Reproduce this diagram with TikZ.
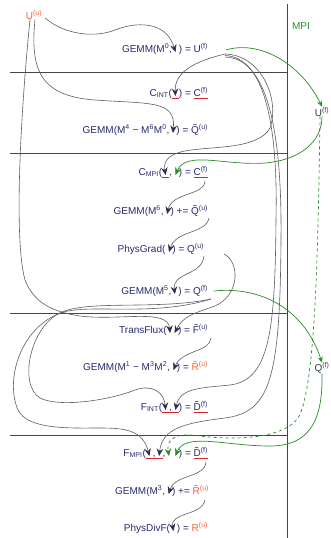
\documentclass[tikz,border=0pt]{standalone}
\usepackage{fontspec}
\setmainfont{Liberation Sans}
\usetikzlibrary{arrows.meta}
\definecolor{fncol}{RGB}{40,44,110}
\definecolor{rescol}{RGB}{55,55,70}
\definecolor{orng}{RGB}{240,100,60}
\definecolor{ulred}{RGB}{210,40,40}
\definecolor{mpigreen}{RGB}{40,140,40}
\definecolor{linegray}{RGB}{95,95,100}
\definecolor{tipcol}{RGB}{45,47,75}
\definecolor{rulegray}{RGB}{70,70,70}
\begin{document}
\begin{tikzpicture}[x=1pt,y=-1pt,
  lbl/.style={inner sep=0pt, outer sep=0pt, anchor=base east, font=\fontsize{10}{12}\selectfont, text=fncol},
  hot/.style={lbl, text=orng},
  side/.style={lbl, text=rescol, anchor=center},
  rule/.style={draw=rulegray, line width=0.9pt},
  flow/.style={draw=linegray, line width=0.6pt, -{Stealth[length=7.5pt,width=6.5pt,inset=2.6pt,color=tipcol]}},
  gflow/.style={draw=mpigreen, line width=0.7pt, -{Stealth[length=7.5pt,width=6.5pt,inset=2.6pt]}},
  mpiarr/.style={draw=mpigreen, line width=0.7pt, -{Stealth[length=6pt,width=5pt]}},
  uline/.style={draw=ulred, line width=0.9pt},
]
\path[use as bounding box, fill=white] (0,0) rectangle (331,538);

% rules
\draw[rule] (10,72) -- (287,72);
\draw[rule] (10,153) -- (287,153);
\draw[rule] (10,313) -- (287,313);
\draw[rule] (10,435) -- (287,435);
\draw[rule] (287,4) -- (287,538);

% side labels
\node[hot, anchor=center] (uu) at (34,15) {U\textsuperscript{(u)}};
\node[lbl, text=mpigreen, anchor=west] (mpi) at (292,26) {MPI};
\node[side] (ufr) at (322,112) {U\textsuperscript{(f)}};
\node[side] (qfr) at (322,368) {Q\textsuperscript{(f)}};

% GEMM M0
\node[lbl] (m0b) at (208,52) {)~=~U\textsuperscript{(f)}};
\coordinate (m0s) at ([xshift=-3.5pt]m0b.base west);
\node[lbl] (m0a) at ([xshift=-7pt]m0b.base west) {GEMM(M\textsuperscript{0},};

% C_INT
\node[lbl] (cic) at (208,96) {C\textsuperscript{(f)}};
\node[lbl] (cib) at (cic.base west) {)~=\kern2.8pt};
\coordinate (cis) at ([xshift=-3.5pt]cib.base west);
\node[lbl] (cia) at ([xshift=-7pt]cib.base west) {C\textsubscript{INT}(};

% GEMM M4
\node[lbl] (m4b) at (208,133) {)~=~\~{Q}\textsuperscript{(u)}};
\coordinate (m4s) at ([xshift=-3.5pt]m4b.base west);
\node[lbl] (m4a) at ([xshift=-7pt]m4b.base west) {GEMM(M\textsuperscript{4}~−~M\textsuperscript{6}M\textsuperscript{0},};

% C_MPI
\node[lbl] (cmd) at (208,175) {C\textsuperscript{(f)}};
\node[lbl] (cmc) at (cmd.base west) {)~=\kern2.8pt};
\coordinate (cms2) at ([xshift=-3.5pt]cmc.base west);
\node[lbl] (cmb) at ([xshift=-7pt]cmc.base west) {,};
\coordinate (cms1) at ([xshift=-3.5pt]cmb.base west);
\node[lbl] (cma) at ([xshift=-7pt]cmb.base west) {C\textsubscript{MPI}(};

% GEMM M6
\node[lbl] (m6b) at (208,214) {)~+=~\~{Q}\textsuperscript{(u)}};
\coordinate (m6s) at ([xshift=-3.5pt]m6b.base west);
\node[lbl] (m6a) at ([xshift=-7pt]m6b.base west) {GEMM(M\textsuperscript{6},};

% PhysGrad
\node[lbl] (pgb) at (204,252) {)~=~Q\textsuperscript{(u)}};
\coordinate (pgs) at ([xshift=-3.5pt]pgb.base west);
\node[lbl] (pga) at ([xshift=-7pt]pgb.base west) {PhysGrad(};

% GEMM M5
\node[lbl] (m5b) at (208,294) {)~=~Q\textsuperscript{(f)}};
\coordinate (m5s) at ([xshift=-3.5pt]m5b.base west);
\node[lbl] (m5a) at ([xshift=-7pt]m5b.base west) {GEMM(M\textsuperscript{5},};

% TransFlux
\node[lbl] (tfb) at (208,333) {)~=~\~{F}\textsuperscript{(u)}};
\coordinate (tfs1) at ([xshift=-8pt]tfb.base west);
\coordinate (tfs2) at ([xshift=-3.5pt]tfb.base west);
\node[lbl] (tfa) at ([xshift=-11.5pt]tfb.base west) {TransFlux(};

% GEMM M1
\node[hot] (m1c) at (208,370) {\~{R}\textsuperscript{(u)}};
\node[lbl] (m1b) at (m1c.base west) {)~=\kern2.8pt};
\coordinate (m1s) at ([xshift=-3.5pt]m1b.base west);
\node[lbl] (m1a) at ([xshift=-7pt]m1b.base west) {GEMM(M\textsuperscript{1}~−~M\textsuperscript{3}M\textsuperscript{2},};

% F_INT
\node[lbl] (fid) at (208,410) {\~{D}\textsuperscript{(f)}};
\node[lbl] (fic) at (fid.base west) {)~=\kern2.8pt};
\coordinate (fis2) at ([xshift=-3.5pt]fic.base west);
\node[lbl] (fib) at ([xshift=-7pt]fic.base west) {,};
\coordinate (fis1) at ([xshift=-3.5pt]fib.base west);
\node[lbl] (fia) at ([xshift=-7pt]fib.base west) {F\textsubscript{INT}(};

% F_MPI
\node[lbl] (fmf) at (208,456) {\~{D}\textsuperscript{(f)}};
\node[lbl] (fme) at (fmf.base west) {)~=\kern2.8pt};
\coordinate (fms4) at ([xshift=-3.5pt]fme.base west);
\coordinate (fms3) at ([xshift=-10pt]fme.base west);
\node[lbl] (fmc) at ([xshift=-13.5pt]fme.base west) {,};
\coordinate (fms2) at ([xshift=-3.5pt]fmc.base west);
\node[lbl] (fmb) at ([xshift=-7pt]fmc.base west) {,};
\coordinate (fms1) at ([xshift=-3.5pt]fmb.base west);
\node[lbl] (fma) at ([xshift=-7pt]fmb.base west) {F\textsubscript{MPI}(};

% GEMM M3
\node[hot] (m3c) at (209,494) {\~{R}\textsuperscript{(u)}};
\node[lbl] (m3b) at (m3c.base west) {)~+=\kern2.8pt};
\coordinate (m3s) at ([xshift=-3.5pt]m3b.base west);
\node[lbl] (m3a) at ([xshift=-7pt]m3b.base west) {GEMM(M\textsuperscript{3},};

% PhysDivF
\node[hot] (pdc) at (208,531) {R\textsuperscript{(u)}};
\node[lbl] (pdb) at (pdc.base west) {)~=\kern2.8pt};
\coordinate (pds) at ([xshift=-3.5pt]pdb.base west);
\node[lbl] (pda) at ([xshift=-7pt]pdb.base west) {PhysDivF(};

% underlines
\draw[uline] ([xshift=-3.5pt,yshift=-2.5pt]cis) -- ([xshift=3.5pt,yshift=-2.5pt]cis);
\draw[uline] ([yshift=-2.5pt]cic.base west) -- ([yshift=-2.5pt]cic.base east);
\draw[uline] ([xshift=-3.5pt,yshift=-2.5pt]cms1) -- ([xshift=3.5pt,yshift=-2.5pt]cms1);
\draw[uline] ([yshift=-2.5pt]cmd.base west) -- ([yshift=-2.5pt]cmd.base east);
\draw[uline] ([xshift=-3.5pt,yshift=-2.5pt]fis1) -- ([xshift=3.5pt,yshift=-2.5pt]fis2);
\draw[uline] ([yshift=-2.5pt]fid.base west) -- ([yshift=-2.5pt]fid.base east);
\draw[uline] ([xshift=-3.5pt,yshift=-2.5pt]fms1) -- ([xshift=3.5pt,yshift=-2.5pt]fms2);
\draw[uline] ([yshift=-2.5pt]fmf.base west) -- ([yshift=-2.5pt]fmf.base east);

% source points
\coordinate (uuR) at ([xshift=3pt,yshift=-3pt]uu.east);
\coordinate (uuB) at ([xshift=1pt]uu.south);
\coordinate (uuL) at ([xshift=-4pt]uu.south);
\coordinate (ufo) at ([xshift=17pt,yshift=-2pt]m0b.base east);
\coordinate (ufg) at ([xshift=18pt,yshift=2pt]m0b.base east);
\coordinate (cmo) at ([xshift=-3pt,yshift=-6pt]cmd.base east);
\coordinate (m6o) at ([xshift=1pt,yshift=-4pt]m6b.base east);
\coordinate (pgo) at ([xshift=0pt,yshift=-4pt]pgb.base east);
\coordinate (pgq) at ([xshift=20pt,yshift=-2pt]pgb.base east);
\coordinate (m5o) at ([xshift=6pt,yshift=3pt]m5b.base east);
\coordinate (m5p) at ([xshift=3pt,yshift=-5pt]m5b.base east);
\coordinate (tfo) at ([xshift=3pt,yshift=-5pt]tfb.base east);
\coordinate (fmo) at ([xshift=-2pt,yshift=-6pt]fmf.base east);
\coordinate (m3o) at ([xshift=-4pt,yshift=-6pt]m3c.base east);

% gray flows
\draw[flow] (uuR) .. controls (65,35) and (95,38) .. (115,30) .. controls (135,22) and (166,20) .. (m0s);
\draw[flow] (uuB) .. controls (30,70) and (40,96) .. (95,100) .. controls (150,104) and (176,100) .. (m4s);
\draw[flow] (uuL) .. controls (20,120) and (14,240) .. (25,280) .. controls (35,305) and (55,312) .. (80,316) .. controls (120,321) and (168,308) .. (tfs1);
\draw[flow] (ufo) .. controls (200,60) and (174,70) .. (cis);
\draw[flow] (ufo) .. controls (262,55) and (280,100) .. (270,128) .. controls (258,150) and (210,146) .. (185,151) .. controls (170,154) and (163,160) .. (cms1);
\draw[flow] ([yshift=-1.5pt]ufo) .. controls (266,57) and (278,130) .. (276,220) .. controls (275,330) and (270,380) .. (230,385) .. controls (200,388) and (180,388) .. (fis2);
\draw[flow] ([yshift=-3pt]ufo) .. controls (270,58) and (282,140) .. (281,240) .. controls (280,380) and (270,412) .. (225,418) .. controls (185,423) and (162,428) .. (fms2);
\draw[flow] (cmo) .. controls (204,196) and (172,192) .. (m6s);
\draw[flow] (m6o) .. controls (206,234) and (176,230) .. (pgs);
\draw[flow] (pgo) .. controls (202,276) and (172,272) .. (m5s);
\draw[flow] (pgq) .. controls (240,262) and (240,295) .. (215,306) .. controls (195,313) and (183,316) .. (tfs2);
\draw[flow] (m5p) .. controls (160,310) and (90,300) .. (62,312) .. controls (30,325) and (18,385) .. (40,398) .. controls (60,408) and (110,400) .. (135,390) .. controls (152,384) and (164,392) .. (fis1);
\draw[flow] (m5p) .. controls (150,318) and (85,302) .. (58,314) .. controls (20,330) and (5,380) .. (18,410) .. controls (28,430) and (70,428) .. (100,428) .. controls (125,428) and (143,430) .. (fms1);
\draw[flow] (tfo) .. controls (210,352) and (182,350) .. (m1s);
\draw[flow] (fmo) .. controls (205,478) and (175,474) .. (m3s);
\draw[flow] (m3o) .. controls (202,516) and (170,512) .. (pds);

% green MPI flows
\draw[mpiarr] (ufg) .. controls (258,40) and (300,62) .. ([yshift=1pt]ufr.north);
\draw[gflow] (ufr.south) .. controls (322,142) and (300,160) .. (265,163) .. controls (225,166) and (186,150) .. (cms2);
\draw[gflow, dashed] ([xshift=-2pt]ufr.south) .. controls (318,260) and (315,390) .. (298,418) .. controls (282,440) and (230,440) .. (200,436) .. controls (180,433) and (166,436) .. (fms3);
\draw[mpiarr] (m5o) .. controls (262,286) and (305,310) .. (qfr.north);
\draw[gflow] (qfr.south) .. controls (323,420) and (310,446) .. (270,446) .. controls (225,446) and (185,432) .. (fms4);
\end{tikzpicture}
\end{document}
